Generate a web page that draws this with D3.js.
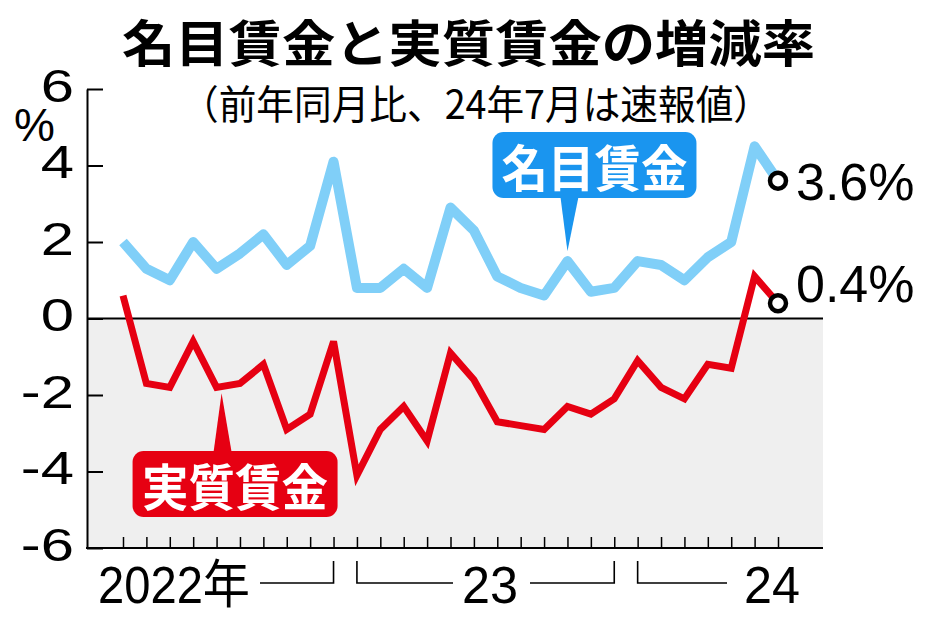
<!DOCTYPE html>
<html><head><meta charset="utf-8">
<script src="https://cdn.jsdelivr.net/npm/d3@7"></script>
<style>
html,body{margin:0;padding:0;background:#fff;}
svg{display:block;}
</style></head>
<body>
<svg id="chart" width="934" height="618"></svg>
<script>
const categories = ["2022-03","2022-04","2022-05","2022-06","2022-07","2022-08","2022-09","2022-10","2022-11","2022-12",
  "2023-01","2023-02","2023-03","2023-04","2023-05","2023-06","2023-07","2023-08","2023-09","2023-10","2023-11","2023-12",
  "2024-01","2024-02","2024-03","2024-04","2024-05","2024-06","2024-07"];
const nominalWage = [2.0,1.3,1.0,2.0,1.3,1.7,2.2,1.4,1.9,4.1,0.8,0.8,1.3,0.8,2.9,2.3,1.1,0.8,0.6,1.5,0.7,0.8,1.5,1.4,1.0,1.6,2.0,4.5,3.6];
const realWage = [0.6,-1.7,-1.8,-0.6,-1.8,-1.7,-1.2,-2.9,-2.5,-0.6,-4.1,-2.9,-2.3,-3.2,-0.9,-1.6,-2.7,-2.8,-2.9,-2.3,-2.5,-2.1,-1.1,-1.8,-2.1,-1.2,-1.3,1.1,0.4];
const yTicks = [-6,-4,-2,0,2,4,6];
const yearLabels = ["2022年","23","24"];
const seriesNames = ["名目賃金","実質賃金"];
const endLabels = ["3.6%","0.4%"];
const titleText = "名目賃金と実質賃金の増減率";
const subtitleText = "（前年同月比、24年7月は速報値）";
const unitLabel = "%";

const svg = d3.select("#chart");
const LAT = "'Liberation Sans', Arial, 'Noto Sans CJK JP', sans-serif";
const CJK = "'Noto Sans CJK JP', 'Liberation Sans', sans-serif";
const RED = "#e60012", BLUE = "#80cff8", BLUEBOX = "#1a95ef";

const left = 87, right = 823;
const x = d3.scalePoint().domain(categories).range([123, 778]);
const y = d3.scaleLinear().domain([-6, 6]).range([548, 89]);
const xi = i => x(categories[i]);

// title
svg.append("text").attr("x", 122).attr("y", 62)
  .attr("font-family", CJK).attr("font-weight", 700).attr("font-size", 50)
  .attr("textLength", 693).attr("lengthAdjust", "spacingAndGlyphs")
  .text(titleText);
svg.append("text").attr("x", 181).attr("y", 119)
  .attr("font-family", CJK).attr("font-weight", 400).attr("font-size", 40)
  .attr("textLength", 590).attr("lengthAdjust", "spacingAndGlyphs")
  .text(subtitleText);

// negative background
svg.append("rect").attr("x", left).attr("y", y(0)).attr("width", right - left).attr("height", y(-6) - y(0))
  .attr("fill", "#efefef");
svg.append("line").attr("x1", left).attr("x2", right).attr("y1", y(0)).attr("y2", y(0))
  .attr("stroke", "#000").attr("stroke-width", 2);

// y axis
const yAxis = d3.axisLeft(y).tickValues(yTicks).tickSizeInner(-16).tickSizeOuter(0).tickPadding(10)
  .tickFormat(d => d < 0 ? "-" + Math.abs(d) : String(d));
const gy = svg.append("g").attr("transform", `translate(${left},0)`).call(yAxis);
gy.select(".domain").attr("stroke-width", 2);
gy.selectAll(".tick line").attr("stroke-width", 2);
gy.selectAll(".tick text").attr("font-family", LAT).attr("font-size", 46).attr("fill", "#000")
  .attr("dy", "0.27em").attr("transform", "scale(1.3,1)");

svg.append("text").attr("x", 14).attr("y", 141).attr("font-family", LAT).attr("font-size", 46)
  .text(unitLabel);

// x axis
const xAxis = d3.axisBottom(x).tickSizeInner(-11).tickSizeOuter(0).tickFormat("");
const gx = svg.append("g").attr("transform", `translate(0,${y(-6)})`).call(xAxis);
gx.select(".domain").remove();
gx.selectAll(".tick line").attr("stroke-width", 1.5);
svg.append("line").attr("x1", left - 1).attr("x2", right).attr("y1", y(-6)).attr("y2", y(-6))
  .attr("stroke", "#000").attr("stroke-width", 2);

// year labels and brackets
const yb = 583, yt = 561;
svg.append("text").attr("x", 250).attr("y", 603).attr("text-anchor", "end")
  .attr("font-family", LAT).attr("font-size", 52).attr("textLength", 152).attr("lengthAdjust", "spacingAndGlyphs")
  .text(yearLabels[0]);
svg.append("text").attr("x", 490).attr("y", 603).attr("text-anchor", "middle")
  .attr("font-family", LAT).attr("font-size", 52).attr("textLength", 56).attr("lengthAdjust", "spacingAndGlyphs")
  .text(yearLabels[1]);
svg.append("text").attr("x", 772).attr("y", 603).attr("text-anchor", "middle")
  .attr("font-family", LAT).attr("font-size", 52).attr("textLength", 56).attr("lengthAdjust", "spacingAndGlyphs")
  .text(yearLabels[2]);
const br = [
  `M260,${yb}H${xi(9)}V${yt}`,
  `M${xi(10)},${yt}V${yb}H453`,
  `M530,${yb}H${xi(21)}V${yt}`,
  `M${xi(22)},${yt}V${yb}H727`
];
svg.append("path").attr("d", br.join("")).attr("fill", "none").attr("stroke", "#000").attr("stroke-width", 1.6);

// lines
const line = d3.line().x((d, i) => xi(i)).y(d => y(d));
svg.append("path").datum(nominalWage).attr("d", line).attr("fill", "none")
  .attr("stroke", BLUE).attr("stroke-width", 10).attr("stroke-linejoin", "round");
svg.append("path").datum(realWage).attr("d", line).attr("fill", "none")
  .attr("stroke", RED).attr("stroke-width", 7).attr("stroke-linejoin", "miter").attr("stroke-miterlimit", 4);

// callouts
function callout(px, py, bx, by, bw, bh, tipBase, color, label) {
  const g = svg.append("g");
  g.append("rect").attr("x", bx).attr("y", by).attr("width", bw).attr("height", bh).attr("rx", 11)
    .attr("fill", color);
  const baseY = py < by ? by + 1 : by + bh - 1;
  g.append("path").attr("d", `M${tipBase - 9},${baseY}L${px},${py}L${tipBase + 9},${baseY}Z`).attr("fill", color);
  g.append("text").attr("x", bx + bw / 2).attr("y", by + bh / 2).attr("text-anchor", "middle")
    .attr("dominant-baseline", "central").attr("fill", "#fff")
    .attr("font-family", CJK).attr("font-weight", 700).attr("font-size", 50)
    .attr("textLength", 186).attr("lengthAdjust", "spacingAndGlyphs").text(label);
}
const bi = 19, ri = 4;
callout(xi(bi), y(nominalWage[bi]) - 10, xi(bi) - 75, 132, 204, 66, xi(bi) + 2, BLUEBOX, seriesNames[0]);
callout(xi(ri) + 5, y(realWage[ri]) + 6, xi(ri) - 84, 451, 205, 66, xi(ri) + 6, RED, seriesNames[1]);

// end markers
const last = categories.length - 1;
[[nominalWage, endLabels[0], 19], [realWage, endLabels[1], 0]].forEach(([arr, lab, dyOff]) => {
  svg.append("circle").attr("cx", xi(last)).attr("cy", y(arr[last])).attr("r", 8)
    .attr("fill", "#fff").attr("stroke", "#000").attr("stroke-width", 4.5);
});
svg.append("text").attr("x", 796).attr("y", y(nominalWage[last]) + 19)
  .attr("font-family", LAT).attr("font-size", 52).text(endLabels[0]);
svg.append("text").attr("x", 796).attr("y", y(realWage[last]) - 1)
  .attr("font-family", LAT).attr("font-size", 52).text(endLabels[1]);
</script>
</body></html>
